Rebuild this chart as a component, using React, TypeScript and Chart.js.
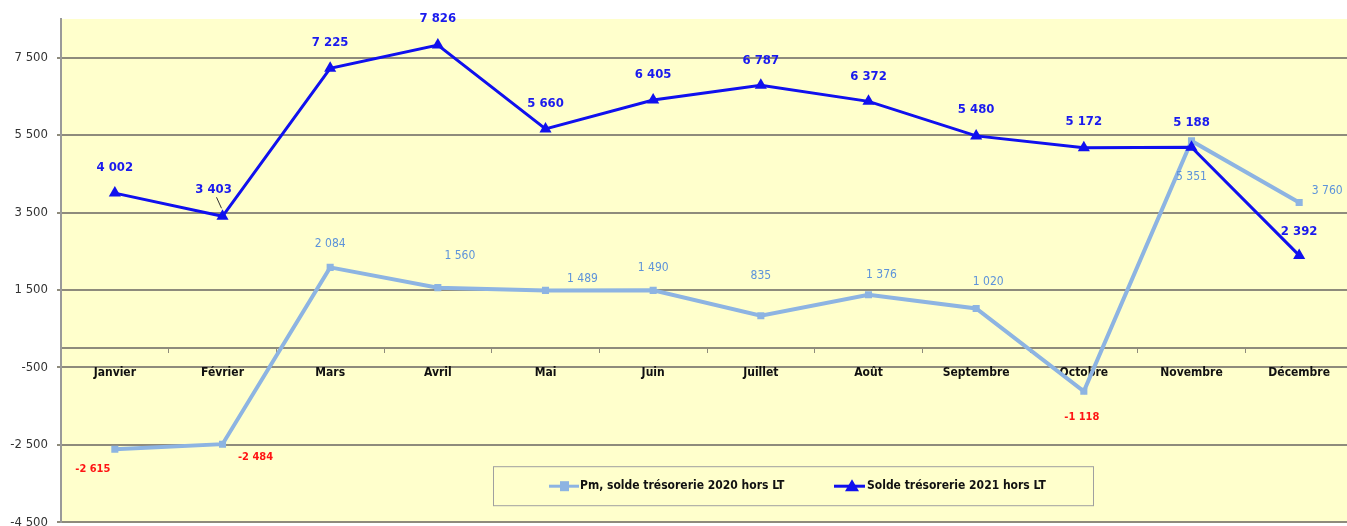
import React, { useEffect, useRef } from 'react';
import { Chart, registerables } from 'chart.js';

Chart.register(...registerables);

const MONTHS = ['Janvier', 'Février', 'Mars', 'Avril', 'Mai', 'Juin', 'Juillet', 'Août', 'Septembre', 'Octobre', 'Novembre', 'Décembre'];
const SOLDE_2020 = [-2615, -2484, 2084, 1560, 1489, 1490, 835, 1376, 1020, -1118, 5351, 3760];
const SOLDE_2021 = [4002, 3403, 7225, 7826, 5660, 6405, 6787, 6372, 5480, 5172, 5188, 2392];
const Y_TICKS = [-4500, -2500, -500, 1500, 3500, 5500, 7500];
const LABEL_2020 = 'Pm, solde trésorerie 2020 hors LT';
const LABEL_2021 = 'Solde trésorerie 2021 hors LT';

// value-label placement relative to each point (styling only)
const OFFSETS_2020 = [[-22, 20], [33, 13], [0, -23], [22, -32], [37, -12], [0, -22], [0, -40], [13, -20], [12, -27], [-2, 26], [0, 36], [28, -12]];
const OFFSETS_2021 = [[0, -25], [-9, -27], [0, -26], [0, -26], [0, -25], [0, -25], [0, -25], [0, -25], [0, -26], [0, -26], [0, -25], [0, -24]];
const LEADER_2021 = [1];

const FONT = '"Liberation Sans Narrow", "DejaVu Sans Condensed", "Arial Narrow", sans-serif';
const LIGHT = '#8db4e2';
const DARK = '#1010ee';
const GRID = '#8e8b7c';
const BG = '#ffffcc';

const fmt = (v: number) => {
  const s = Math.abs(v).toString().replace(/\B(?=(\d{3})+(?!\d))/g, ' ');
  return (v < 0 ? '-' : '') + s;
};

const bgPlugin = {
  id: 'bgPlugin',
  beforeDraw(chart: any) {
    const { ctx, chartArea: a } = chart;
    ctx.save();
    ctx.fillStyle = BG;
    ctx.fillRect(a.left, a.top, a.right - a.left, a.bottom - a.top);
    ctx.restore();
  },
};

const labelsPlugin = {
  id: 'labelsPlugin',
  afterDatasetsDraw(chart: any) {
    const { ctx } = chart;
    ctx.save();
    ctx.textAlign = 'center';
    ctx.textBaseline = 'middle';
    chart.data.datasets.forEach((ds: any, di: number) => {
      const meta = chart.getDatasetMeta(di);
      const is2021 = di === 1;
      meta.data.forEach((el: any, i: number) => {
        const v = ds.data[i];
        const off = is2021 ? OFFSETS_2021[i] : OFFSETS_2020[i];
        const x = el.x + off[0];
        const y = el.y + off[1];
        if (is2021) {
          ctx.font = `bold 13px ${FONT}`;
          ctx.fillStyle = '#1a1aee';
          if (LEADER_2021.includes(i)) {
            ctx.strokeStyle = '#333';
            ctx.lineWidth = 1;
            ctx.beginPath();
            ctx.moveTo(x + 3, y + 8);
            ctx.lineTo(el.x - 1, el.y - 8);
            ctx.stroke();
          }
        } else if (v < 0) {
          ctx.font = `bold 11px ${FONT}`;
          ctx.fillStyle = '#ff1414';
        } else {
          ctx.font = `12px ${FONT}`;
          ctx.fillStyle = '#5d93da';
        }
        ctx.fillText(fmt(v), x, y);
      });
    });
    ctx.restore();
  },
};

const legendPlugin = {
  id: 'legendPlugin',
  afterDraw(chart: any) {
    const { ctx, chartArea: a } = chart;
    const left = a.left + 432;
    const top = a.bottom - 56;
    const w = 600;
    const h = 39;
    ctx.save();
    ctx.fillStyle = BG;
    ctx.fillRect(left, top, w, h);
    ctx.strokeStyle = '#a0a0a0';
    ctx.lineWidth = 1;
    ctx.strokeRect(left + 0.5, top + 0.5, w, h);
    const cy = top + 20;
    // item 1
    const x1 = left + 56;
    ctx.strokeStyle = LIGHT;
    ctx.lineWidth = 3;
    ctx.beginPath();
    ctx.moveTo(x1, cy);
    ctx.lineTo(x1 + 30, cy);
    ctx.stroke();
    ctx.fillStyle = LIGHT;
    ctx.fillRect(x1 + 11, cy - 5, 9, 10);
    ctx.fillStyle = '#111';
    ctx.font = `bold 12px ${FONT}`;
    ctx.textAlign = 'left';
    ctx.textBaseline = 'middle';
    ctx.fillText(LABEL_2020, x1 + 31, cy);
    // item 2
    const x2 = left + 341;
    ctx.strokeStyle = DARK;
    ctx.lineWidth = 3;
    ctx.beginPath();
    ctx.moveTo(x2, cy);
    ctx.lineTo(x2 + 31, cy);
    ctx.stroke();
    ctx.fillStyle = DARK;
    ctx.beginPath();
    ctx.moveTo(x2 + 18, cy - 7);
    ctx.lineTo(x2 + 25, cy + 5);
    ctx.lineTo(x2 + 11, cy + 5);
    ctx.closePath();
    ctx.fill();
    ctx.fillStyle = '#111';
    ctx.fillText(LABEL_2021, x2 + 33, cy);
    ctx.restore();
  },
};

export default function App() {
  const ref = useRef<HTMLCanvasElement | null>(null);

  useEffect(() => {
    if (!ref.current) return;
    const chart = new Chart(ref.current, {
      type: 'line',
      data: {
        labels: MONTHS,
        datasets: [
          {
            label: LABEL_2020,
            data: SOLDE_2020,
            borderColor: LIGHT,
            backgroundColor: LIGHT,
            borderWidth: 4,
            pointStyle: 'rect',
            pointRadius: 5,
            pointBorderWidth: 0,
            tension: 0,
            order: 2,
          },
          {
            label: LABEL_2021,
            data: SOLDE_2021,
            borderColor: DARK,
            backgroundColor: DARK,
            borderWidth: 3,
            pointStyle: 'triangle',
            pointRadius: 7,
            pointBorderWidth: 0,
            tension: 0,
            order: 1,
          },
        ],
      },
      options: {
        responsive: false,
        animation: false,
        devicePixelRatio: 1,
        layout: { padding: { left: 0, top: 19, right: 1, bottom: 0 } },
        plugins: {
          legend: { display: false },
          tooltip: { enabled: false },
        },
        scales: {
          x: {
            type: 'category',
            position: { y: 0 } as any,
            offset: true,
            afterFit: (axis: any) => {
              axis.height = 0;
            },
            grid: {
              display: true,
              drawOnChartArea: false,
              drawTicks: true,
              tickLength: 4,
              offset: true,
              color: GRID,
              lineWidth: 1,
            },
            border: { display: true, color: GRID, width: 2 },
            ticks: {
              color: '#111',
              font: { family: FONT, size: 12, weight: 'bold' },
              padding: 14,
              maxRotation: 0,
              autoSkip: false,
            },
          },
          y: {
            type: 'linear',
            min: -4500,
            max: 8500,
            afterBuildTicks: (axis: any) => {
              axis.ticks = Y_TICKS.map((v) => ({ value: v }));
            },
            afterFit: (axis: any) => {
              axis.width = 61;
            },
            grid: {
              color: GRID,
              lineWidth: 2,
              tickLength: 4,
            },
            border: { display: true, color: '#9a9a9a', width: 2 },
            ticks: {
              color: '#333',
              font: { family: FONT, size: 13 },
              padding: 9,
              callback: (v: any) => fmt(Number(v)),
            },
          },
        },
      },
      plugins: [bgPlugin, labelsPlugin, legendPlugin],
    });
    return () => chart.destroy();
  }, []);

  return (
    <div
      style={{
        position: 'fixed',
        left: 0,
        top: 0,
        width: 1347,
        height: 526,
        overflow: 'hidden',
        background: '#fff',
      }}
    >
      <canvas ref={ref} width={1360} height={539} style={{ display: 'block' }} />
    </div>
  );
}
